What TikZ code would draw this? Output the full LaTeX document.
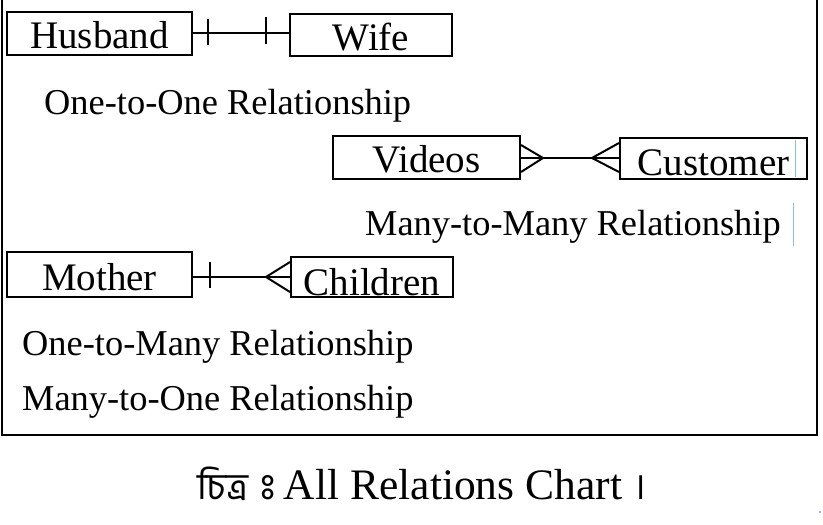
\documentclass[tikz,border=0pt]{standalone}
\usepackage{fontspec}
\setmainfont{Liberation Serif}
\newfontfamily\bnfont[Script=Bengali]{Hind Siliguri}
\usetikzlibrary{calc}
\definecolor{cursorblue}{RGB}{140,190,225}
\tikzset{
  x=1pt, y=-1pt,
  ent/.style={draw, line width=2pt, inner sep=0pt, text depth=0pt,
    font=\fontsize{39}{39}\selectfont},
  relcap/.style={inner sep=0pt, anchor=base west, font=\fontsize{36.4}{36.4}\selectfont},
  conn/.style={line width=2pt},
}
\begin{document}
\begin{tikzpicture}
\useasboundingbox (0,0) rectangle (823,525);
% frame
\draw[line width=2pt] (2,0) -- (2,435) -- (817,435) -- (817,0);
% entities
\node[ent, minimum width=185pt, minimum height=43pt, text height=29pt] (husband) at (99.5,33.5) {Husband};
\node[ent, minimum width=162pt, minimum height=41.5pt, text height=30.5pt] (wife) at (371,34.75) {Wife};
\node[ent, minimum width=187pt, minimum height=43pt, text height=29pt] (videos) at (426.5,157.5) {Videos};
\node[ent, minimum width=187pt, minimum height=41pt, text height=33pt] (customer) at (713.5,158.5) {Customer};
\node[ent, minimum width=185pt, minimum height=45pt, text height=31pt] (mother) at (99.5,274.5) {Mother};
\node[ent, minimum width=162pt, minimum height=40pt, text height=36pt] (children) at (372,277) {Children};
% captions
\node[relcap] (c1) at (44,114) {One-to-One Relationship};
\node[relcap] (c2) at (365,235) {Many-to-Many Relationship};
\node[relcap] (c3) at (22,355) {One-to-Many Relationship};
\node[relcap] (c4) at (22,410) {Many-to-One Relationship};
% one-to-one
\coordinate (h1) at ($(husband.east)+(0,-0.5)$);
\coordinate (w1) at (h1 -| wife.west);
\draw[conn] (h1) -- (w1);
\draw[conn] ($(h1)+(15,-14)$) -- ($(h1)+(15,12)$);
\draw[conn] ($(w1)+(-23,-16)$) -- ($(w1)+(-23,11)$);
% many-to-many
\coordinate (v1) at ($(videos.east)+(0,0.5)$);
\coordinate (u1) at (v1 -| customer.west);
\draw[conn] (v1) -- (u1);
\draw[conn] ($(v1)+(0,-13)$) -- ($(v1)+(22,0)$) -- ($(v1)+(0,14)$);
\draw[conn] ($(u1)+(0,-15)$) -- ($(u1)+(-27,0)$) -- ($(u1)+(0,14)$);
% one-to-many
\coordinate (m1) at (children.west -| mother.east);
\draw[conn] (m1) -- (children.west);
\draw[conn] ($(m1)+(17,-15)$) -- ($(m1)+(17,11)$);
\draw[conn] ($(children.west)+(0,-15)$) -- ($(children.west)+(-24,0)$) -- ($(children.west)+(0,15)$);
% cursor marks
\draw[cursorblue, line width=0.8pt] (795,140) -- (795,177);
\draw[cursorblue, line width=0.8pt] (793,203) -- (793,246);
\fill[blue!70] (820,512) circle (0.8pt);
% figure caption
\node[inner sep=0pt, anchor=base west] (figcap) at (197,499)
  {{\bnfont\fontsize{37}{37}\selectfont চিত্র\hspace{12pt}\XeTeXglyph\XeTeXcharglyph"0983\relax}\hspace{8pt}{\fontsize{43.5}{43.5}\selectfont All Relations Chart}\hspace{12pt}{\bnfont\fontsize{37}{37}\selectfont ।}};
\end{tikzpicture}
\end{document}
